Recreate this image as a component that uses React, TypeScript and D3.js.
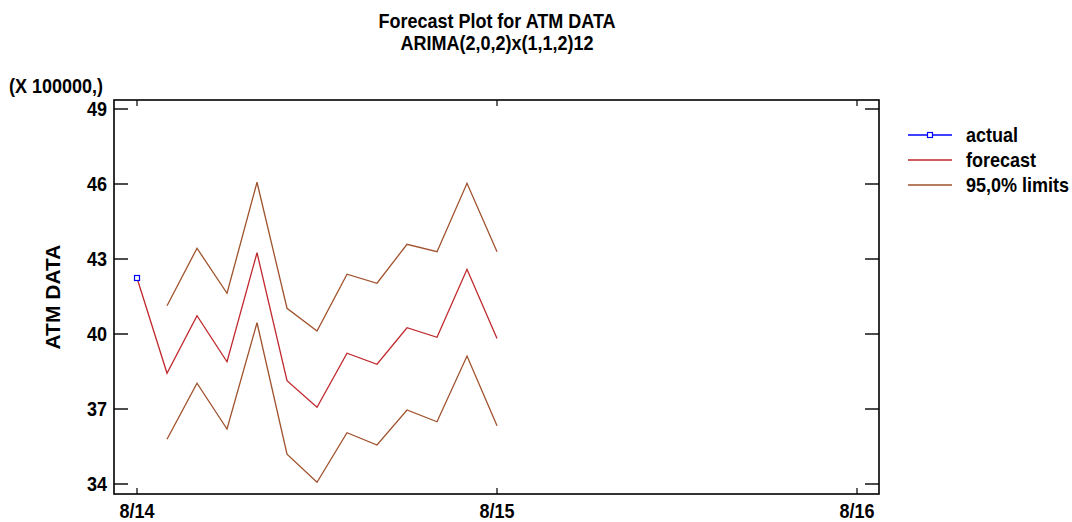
import React from "react";
import * as d3 from "d3";

// Monthly steps from Aug 2014; index 0 = 8/14
const actualMonths = [0];
const actualValues = [42.24];

const forecastMonths = [0, 1, 2, 3, 4, 5, 6, 7, 8, 9, 10, 11, 12];
const forecastValues = [42.24, 38.43, 40.73, 38.89, 43.25, 38.13, 37.07, 39.23, 38.79, 40.25, 39.87, 42.59, 39.82];

const limitMonths = [1, 2, 3, 4, 5, 6, 7, 8, 9, 10, 11, 12];
const upperLimits = [41.13, 43.43, 41.63, 46.07, 41.03, 40.12, 42.39, 42.03, 43.59, 43.29, 46.03, 43.29];
const lowerLimits = [35.79, 38.03, 36.2, 40.45, 35.19, 34.07, 36.05, 35.56, 36.96, 36.49, 39.12, 36.33];

const yTicks = [34, 37, 40, 43, 46, 49];
const xTickMonths = [0, 12, 24];
const xTickLabels = ["8/14", "8/15", "8/16"];

const legendItems = ["actual", "forecast", "95,0% limits"];

const W = 1072;
const H = 522;
const plot = { left: 114, right: 879, top: 100, bottom: 494 };

const BLUE = "#0000ff";
const RED = "#c0282d";
const BROWN = "#a0522d";
const FONT = "'Liberation Sans', Arial, sans-serif";

// Slightly condensed bold label
function Label({
  x,
  y,
  anchor = "start",
  dy,
  children,
}: {
  x: number;
  y: number;
  anchor?: "start" | "middle" | "end";
  dy?: string;
  children: React.ReactNode;
}) {
  return (
    <text transform={`translate(${x},${y}) scale(0.9,1)`} textAnchor={anchor} dy={dy} fontSize={20}>
      {children}
    </text>
  );
}

export default function App() {
  const x = d3.scaleLinear().domain([-0.767, 24.733]).range([plot.left, plot.right]);
  const y = d3.scaleLinear().domain([33.6, 49.36]).range([plot.bottom, plot.top]);

  const line = d3
    .line<[number, number]>()
    .x((d) => x(d[0]))
    .y((d) => y(d[1]));

  const zip = (a: number[], b: number[]) => a.map((m, i) => [m, b[i]] as [number, number]);

  const legendY = [135, 160, 185];

  return (
    <svg
      width={W}
      height={H}
      style={{ position: "absolute", left: 0, top: 0, background: "#fff" }}
      fontFamily={FONT}
      fontWeight="bold"
    >
      {/* titles */}
      <Label x={497} y={28} anchor="middle">
        Forecast Plot for ATM DATA
      </Label>
      <Label x={497} y={50} anchor="middle">
        ARIMA(2,0,2)x(1,1,2)12
      </Label>

      {/* axis multiplier and title */}
      <Label x={9} y={93}>
        (X 100000,)
      </Label>
      <text
        transform={`translate(60, ${(plot.top + plot.bottom) / 2}) rotate(-90)`}
        textAnchor="middle"
        fontSize={21}
      >
        ATM DATA
      </text>

      {/* frame */}
      <rect
        x={plot.left}
        y={plot.top}
        width={plot.right - plot.left}
        height={plot.bottom - plot.top}
        fill="none"
        stroke="#000"
        strokeWidth={1.6}
      />

      {/* y ticks on both sides */}
      {yTicks.map((t) => (
        <g key={t}>
          <line x1={plot.left} x2={plot.left + 14} y1={y(t)} y2={y(t)} stroke="#000" strokeWidth={1.4} />
          <line x1={plot.right - 14} x2={plot.right} y1={y(t)} y2={y(t)} stroke="#000" strokeWidth={1.4} />
          <Label x={107} y={y(t)} dy="0.36em" anchor="end">
            {t}
          </Label>
        </g>
      ))}

      {/* x ticks top and bottom */}
      {xTickMonths.map((m, i) => (
        <g key={m}>
          <line x1={x(m)} x2={x(m)} y1={plot.bottom} y2={plot.bottom - 6} stroke="#000" strokeWidth={1.2} />
          <line x1={x(m)} x2={x(m)} y1={plot.top} y2={plot.top + 6} stroke="#000" strokeWidth={1.2} />
          <Label x={x(m)} y={518} anchor="middle">
            {xTickLabels[i]}
          </Label>
        </g>
      ))}

      {/* series */}
      <path d={line(zip(limitMonths, upperLimits)) || ""} fill="none" stroke={BROWN} strokeWidth={1.3} />
      <path d={line(zip(limitMonths, lowerLimits)) || ""} fill="none" stroke={BROWN} strokeWidth={1.3} />
      <path d={line(zip(forecastMonths, forecastValues)) || ""} fill="none" stroke={RED} strokeWidth={1.3} />
      <path d={line(zip(actualMonths, actualValues)) || ""} fill="none" stroke={BLUE} strokeWidth={1.3} />
      {actualMonths.map((m, i) => (
        <rect
          key={m}
          x={x(m) - 2.5}
          y={y(actualValues[i]) - 2.5}
          width={5}
          height={5}
          fill="#fff"
          stroke={BLUE}
          strokeWidth={1.2}
        />
      ))}

      {/* legend */}
      {legendItems.map((name, i) => {
        const color = i === 0 ? BLUE : i === 1 ? RED : BROWN;
        const ly = legendY[i];
        return (
          <g key={name}>
            <line x1={908} x2={952} y1={ly} y2={ly} stroke={color} strokeWidth={1.3} />
            {i === 0 && (
              <rect x={927.5} y={ly - 2.5} width={5} height={5} fill="#fff" stroke={BLUE} strokeWidth={1.2} />
            )}
            <Label x={966} y={ly} dy="0.36em">
              {name}
            </Label>
          </g>
        );
      })}
    </svg>
  );
}
